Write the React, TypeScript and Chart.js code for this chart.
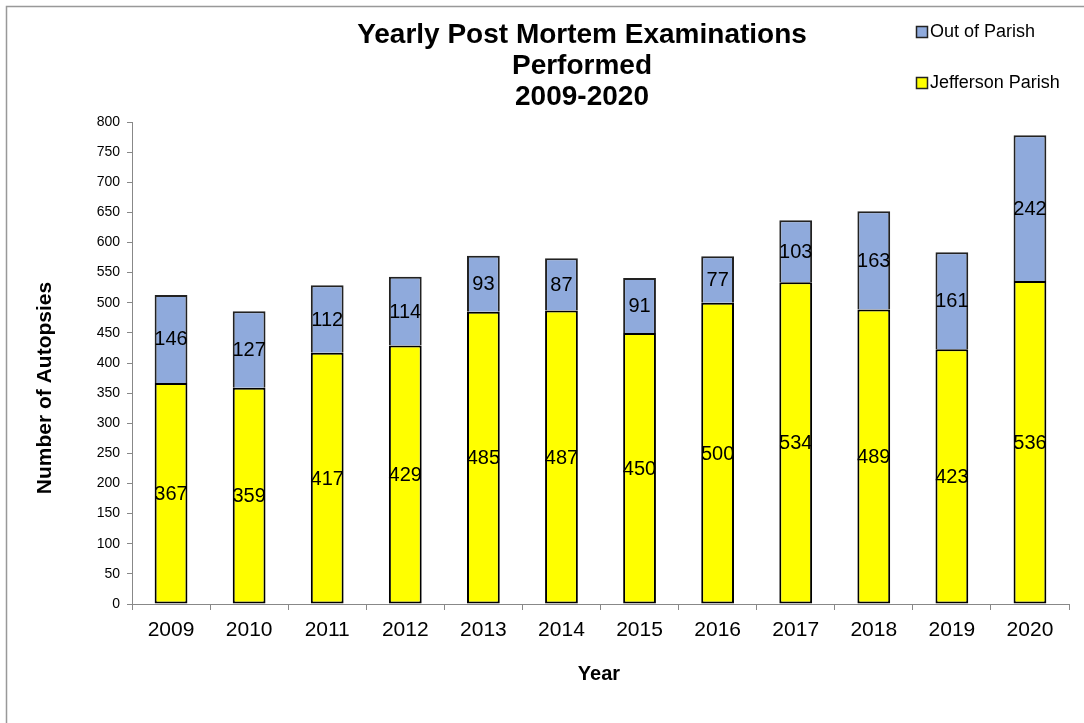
import React, { useEffect, useRef } from "react";
import { Chart, registerables } from "chart.js";

Chart.register(...registerables);

const years = ["2009", "2010", "2011", "2012", "2013", "2014", "2015", "2016", "2017", "2018", "2019", "2020"];
const jeffersonParish = [367, 359, 417, 429, 485, 487, 450, 500, 534, 489, 423, 536];
const outOfParish = [146, 127, 112, 114, 93, 87, 91, 77, 103, 163, 161, 242];
const titleLines = ["Yearly Post Mortem Examinations", "Performed", "2009-2020"];
const legendItems = [
  { label: "Out of Parish", color: "#8FAADC" },
  { label: "Jefferson Parish", color: "#FFFF00" },
];

const FONT = '"Liberation Sans", Arial, Helvetica, sans-serif';
const W = 1084;
const H = 723;

const segmentLabels = {
  id: "segmentLabels",
  afterDatasetsDraw(chart: any) {
    const ctx = chart.ctx;
    ctx.save();
    ctx.font = `20px ${FONT}`;
    ctx.fillStyle = "#000";
    ctx.textAlign = "center";
    ctx.textBaseline = "middle";
    chart.data.datasets.forEach((ds: any, di: number) => {
      const meta = chart.getDatasetMeta(di);
      meta.data.forEach((el: any, i: number) => {
        const p = el.getProps(["x", "y", "base"], true);
        ctx.fillText(String(ds.data[i]), p.x, (p.y + p.base) / 2 + 1);
      });
    });
    ctx.restore();
  },
};

const decorations = {
  id: "decorations",
  afterDraw(chart: any) {
    const ctx = chart.ctx;
    ctx.save();
    // outer frame (top and left only visible)
    ctx.strokeStyle = "#999";
    ctx.lineWidth = 1.5;
    ctx.beginPath();
    ctx.moveTo(6.5, H);
    ctx.lineTo(6.5, 6.5);
    ctx.lineTo(W, 6.5);
    ctx.stroke();

    // title
    ctx.fillStyle = "#000";
    ctx.textAlign = "center";
    ctx.textBaseline = "middle";
    ctx.font = `bold 28px ${FONT}`;
    titleLines.forEach((t, i) => ctx.fillText(t, 582, 35 + i * 31));

    // legend
    ctx.font = `18px ${FONT}`;
    ctx.textAlign = "left";
    legendItems.forEach((it, i) => {
      const cy = 32 + i * 51;
      ctx.fillStyle = it.color;
      ctx.fillRect(916.5, cy - 5.5, 11, 11);
      ctx.strokeStyle = "#222";
      ctx.lineWidth = 1.5;
      ctx.strokeRect(916.5, cy - 5.5, 11, 11);
      ctx.fillStyle = "#000";
      ctx.fillText(it.label, 930, cy);
    });

    // axis titles
    ctx.font = `bold 20px ${FONT}`;
    ctx.textAlign = "center";
    ctx.fillText("Year", 599, 674);
    ctx.translate(45, 388);
    ctx.rotate(-Math.PI / 2);
    ctx.font = `bold 21px ${FONT}`;
    ctx.fillText("Number of Autopsies", 0, 0);
    ctx.restore();
  },
};

export default function App() {
  const ref = useRef<HTMLCanvasElement>(null);
  useEffect(() => {
    if (!ref.current) return;
    const chart = new Chart(ref.current, {
      type: "bar",
      data: {
        labels: years,
        datasets: [
          {
            label: "Jefferson Parish",
            data: jeffersonParish,
            backgroundColor: "#FFFF00",
            borderColor: "#000",
            borderWidth: 2,
            borderSkipped: false,
            categoryPercentage: 1,
            barPercentage: 0.42,
          },
          {
            label: "Out of Parish",
            data: outOfParish,
            backgroundColor: "#8FAADC",
            borderColor: "#222",
            borderWidth: 2,
            borderSkipped: "bottom",
            categoryPercentage: 1,
            barPercentage: 0.42,
          },
        ],
      },
      options: {
        responsive: false,
        animation: false,
        layout: { padding: { left: 0, right: 15, top: 122, bottom: 0 } },
        plugins: {
          legend: { display: false },
          title: { display: false },
          tooltip: { enabled: false },
        },
        scales: {
          x: {
            stacked: true,
            offset: true,
            grid: {
              offset: true,
              drawOnChartArea: false,
              drawTicks: true,
              tickLength: 6,
              color: "#888",
            },
            border: { color: "#888", width: 1 },
            ticks: {
              color: "#000",
              font: { family: FONT, size: 21 },
              padding: 8,
              maxRotation: 0,
            },
            afterFit(scale: any) {
              scale.height = H - 604;
            },
          },
          y: {
            stacked: true,
            min: 0,
            max: 800,
            grid: {
              drawOnChartArea: false,
              drawTicks: true,
              tickLength: 5,
              color: "#888",
            },
            border: { color: "#888", width: 1 },
            ticks: {
              stepSize: 50,
              color: "#000",
              font: { family: FONT, size: 14 },
              padding: 7,
            },
            afterFit(scale: any) {
              scale.width = 132;
            },
          },
        },
      },
      plugins: [segmentLabels, decorations],
    });
    return () => chart.destroy();
  }, []);
  return (
    <div style={{ position: "fixed", left: 0, top: 0, width: W, height: H, background: "#fff" }}>
      <canvas ref={ref} width={W} height={H} style={{ display: "block" }} />
    </div>
  );
}
